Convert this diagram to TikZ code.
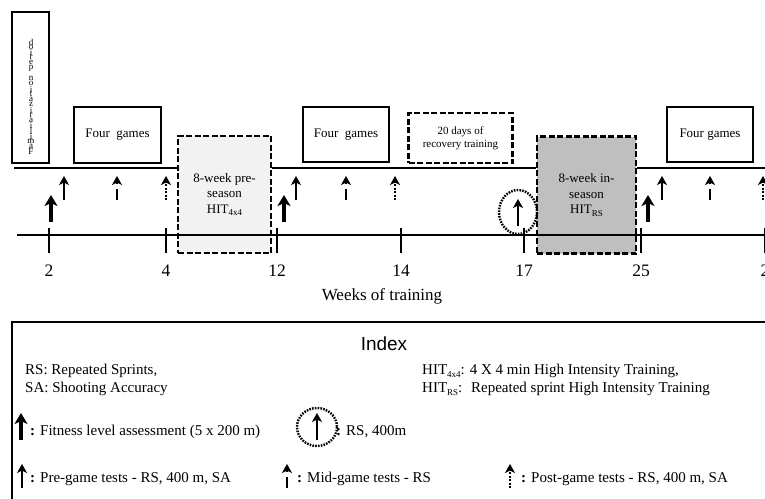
\documentclass[tikz,border=0pt]{standalone}
\usepackage{fontspec}
\setmainfont{Liberation Serif}
\newfontfamily\arialf{Liberation Sans}
\usetikzlibrary{arrows.meta}
\newcommand\mysub[1]{\raisebox{-0.4ex}{\fontsize{9}{9}\selectfont #1}}
\tikzset{
  tipA/.style={-{Stealth[length=11pt,width=13pt,inset=3pt]}},
  tipB/.style={-{Stealth[length=9pt,width=10pt,inset=2.5pt]}},
  fitarr/.pic={\draw[line width=3.6pt,tipA] (0,13) -- (0,-14);},
  prearr/.pic={\draw[line width=2.4pt,tipB] (0,12) -- (0,-12);},
  midarr/.pic={\draw[line width=2.4pt,dash pattern=on 11pt off 5pt,tipB] (0,12) -- (0,-12);},
  postarr/.pic={\draw[line width=1.6pt,dash pattern=on 2pt off 1.4pt,tipB] (0,12) -- (0,-12);},
  circline/.style={line width=2.4pt,dash pattern=on 1.6pt off 1.2pt},
  innerarr/.style={line width=2pt,tipB},
}
\begin{document}
\begin{tikzpicture}[x=1pt,y=-1pt,
  box/.style={draw, line width=1.3pt, inner sep=0pt, align=center, font=\fontsize{13}{15.5}\selectfont},
  dbox/.style={box, line width=2.4pt, dash pattern=on 6pt off 2.5pt},
  tline/.style={line width=1.6pt},
  tickline/.style={line width=1.6pt},
  lab/.style={font=\fontsize{17.5}{20}\selectfont, inner sep=0pt},
  idx/.style={font=\fontsize{15}{17}\selectfont, inner sep=0pt, anchor=west},
  letter/.style={font=\fontsize{9}{9}\selectfont, inner sep=0pt},
]
\useasboundingbox (0,0) rectangle (765,498);
\clip (0,0) rectangle (765,498);

% boxes
\node[box, minimum width=37pt, minimum height=151pt] (fam) at (30.5,87.5) {};
\foreach \ch [count=\i] in {F,a,m,i,l,i,a,r,i,z,a,t,i,o,n,{},p,e,r,i,o,d}
  \node[letter] (fl\i) at (31,152-5.24*\i+5.24) {\ch};
\node[box, minimum width=87pt, minimum height=56pt] (g1) at (117.5,135) {Four~ games};
\node[box, minimum width=86pt, minimum height=55pt] (g2) at (346,134.5) {Four~ games};
\node[box, minimum width=86pt, minimum height=55pt] (g3) at (710,134.5) {Four games};
\node[dbox, minimum width=104pt, minimum height=50pt, font=\fontsize{11}{13}\selectfont] (rec) at (460.5,138) {20 days of\\recovery training};
\node[dbox, fill=black!5, minimum width=93pt, minimum height=117pt] (pre) at (224.5,194.5) {8-week pre-\\season\\HIT\mysub{4x4}};
\node[dbox, fill=black!25, minimum width=99pt, minimum height=117pt] (ins) at (586.5,195) {8-week in-\\season\\HIT\mysub{RS}};

% upper timeline
\coordinate (u0) at (14,168);
\coordinate (u1) at (770,168);
\draw[tline] (u0) -- (u0 -| pre.west);
\draw[tline] (u0 -| pre.east) -- (u0 -| ins.west);
\draw[tline] (u0 -| ins.east) -- (u1);

% lower axis
\coordinate (a0) at (17,235);
\coordinate (a1) at (770,235);
\draw[tline] (a0) -- (a1);
\foreach \x/\t [count=\k] in {49/2,166/4,277/12,401/14,524/17,641/25,765/2}{
  \draw[tickline] (\x,228) -- (\x,253);
  \node[lab] (tl\k) at (\x,271) {\t};
}
\node[font=\fontsize{17}{20}\selectfont, inner sep=0pt] (wk) at (382,296) {Weeks of training};

% markers on timeline
\pic at (51,209) {fitarr};
\pic at (64,188) {prearr};
\pic at (117,188) {midarr};
\pic at (166,188) {postarr};
\pic at (284,209) {fitarr};
\pic at (296,188) {prearr};
\pic at (346,188) {midarr};
\pic at (395,188) {postarr};
\draw[circline] (518,212) ellipse [x radius=19, y radius=22];
\draw[innerarr] (518,226) -- (518,199);
\pic at (648,209) {fitarr};
\pic at (662,188) {prearr};
\pic at (710,188) {midarr};
\pic at (763,188) {postarr};

% index
\draw[line width=1.5pt] (12,510) -- (12,322) -- (775,322);
\node[font=\fontsize{19}{20}\selectfont\arialf, inner sep=0pt] (it) at (384,344) {Index};
\node[idx] (rs) at (25,371) {RS: Repeated Sprints,};
\node[idx] (sa) at (25,389) {SA: Shooting Accuracy};
\node[idx] (h1) at (422,371) {HIT\mysub{4x4}: 4 X 4 min High Intensity Training,};
\node[idx] (h2) at (422,389) {HIT\mysub{RS}:~ Repeated sprint High Intensity Training};
\pic at (21,427) {fitarr};
\node[idx] (fla) at (30,432) {\textbf{:} Fitness level assessment (5 x 200 m)};
\draw[circline] (317,427) ellipse [x radius=20, y radius=19];
\draw[innerarr] (317,440) -- (317,413);
\node[idx] (rsi) at (336,432) {\textbf{:} RS, 400m};
\pic at (22,476) {prearr};
\node[idx] (pg) at (30,479) {\textbf{:} Pre-game tests - RS, 400 m, SA};
\pic at (287,476) {midarr};
\node[idx] (mg) at (297,479) {\textbf{:} Mid-game tests - RS};
\pic at (510,476) {postarr};
\node[idx] (pog) at (521,479) {\textbf{:} Post-game tests - RS, 400 m, SA};
\end{tikzpicture}
\end{document}
